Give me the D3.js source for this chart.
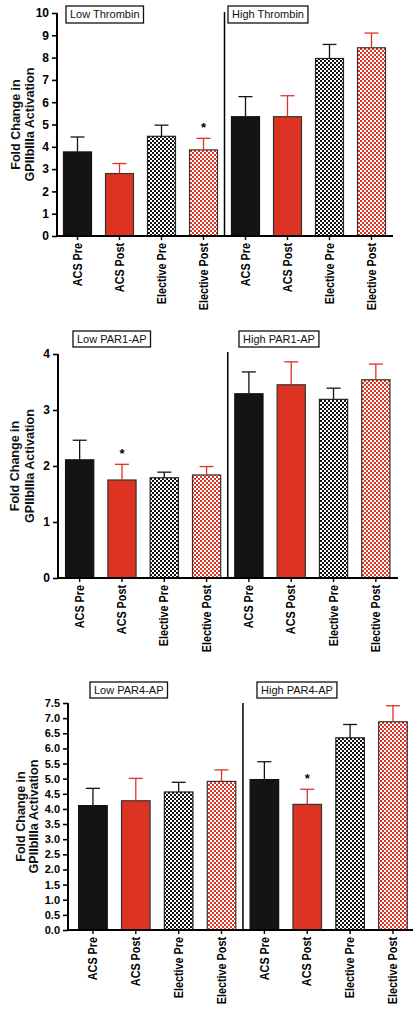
<!DOCTYPE html>
<html><head><meta charset="utf-8">
<script src="https://cdn.jsdelivr.net/npm/d3@7"></script>
<style>body{margin:0;background:#fff}svg{display:block}</style>
</head><body>
<script>
const categories = ["ACS Pre","ACS Post","Elective Pre","Elective Post","ACS Pre","ACS Post","Elective Pre","Elective Post"];
const thrombinMean = [3.77,2.80,4.47,3.86,5.35,5.35,7.96,8.44];
const thrombinErr  = [0.67,0.45,0.50,0.52,0.90,0.94,0.63,0.66];
const par1Mean = [2.11,1.75,1.79,1.84,3.29,3.45,3.19,3.54];
const par1Err  = [0.35,0.28,0.10,0.15,0.39,0.41,0.20,0.28];
const par4Mean = [4.11,4.27,4.56,4.91,4.97,4.15,6.35,6.88];
const par4Err  = [0.57,0.74,0.32,0.38,0.59,0.50,0.44,0.53];
const thrombinTicks = [0,1,2,3,4,5,6,7,8,9,10];
const par1Ticks = [0,1,2,3,4];
const par4Ticks = [0,0.5,1,1.5,2,2.5,3,3.5,4,4.5,5,5.5,6,6.5,7,7.5];
const thrombinTitles = ["Low Thrombin","High Thrombin"];
const par1Titles = ["Low PAR1-AP","High PAR1-AP"];
const par4Titles = ["Low PAR4-AP","High PAR4-AP"];
const thrombinSig = [3];
const par1Sig = [1];
const par4Sig = [5];
const yTitle = ["Fold Change in","GPIIbIIIa Activation"];

const RED = "#dd3322", BLK = "#141414";
const FONT = "Liberation Sans, Arial, sans-serif";
const svg = d3.select("body").append("svg").attr("width",420).attr("height",1010);
const defs = svg.append("defs");
function checker(id, col){
  const p = defs.append("pattern").attr("id",id).attr("patternUnits","userSpaceOnUse")
    .attr("width",4).attr("height",4);
  p.append("rect").attr("width",4).attr("height",4).attr("fill","#fff");
  p.append("rect").attr("width",2).attr("height",2).attr("fill",col);
  p.append("rect").attr("x",2).attr("y",2).attr("width",2).attr("height",2).attr("fill",col);
}
checker("chkB", BLK); checker("chkR", RED);
const fills = [BLK, RED, "url(#chkB)", "url(#chkR)"];
const strokes = ["#111","#333","#222","#333"];
const errCol = [BLK, RED, BLK, RED];

function panel(cfg){
  const {means, errs, ticks, titles, sig, fmt} = cfg;
  const L = cfg.layout;
  const g = svg.append("g");
  const y = d3.scaleLinear().domain([0, d3.max(ticks)]).range([L.y0, L.yTop]);
  const x = d3.scaleBand().domain(d3.range(categories.length))
    .range([L.x0, L.x1]).paddingInner(0.31).paddingOuter(0.155);

  g.selectAll("rect.bar").data(means).join("rect").attr("class","bar")
    .attr("x",(d,i)=>x(i)+0.5).attr("width",x.bandwidth()-1)
    .attr("y",d=>y(d)).attr("height",d=>L.y0-y(d))
    .attr("fill",(d,i)=>fills[i%4]).attr("stroke",(d,i)=>strokes[i%4]).attr("stroke-width",1.2);
  const eb = g.selectAll("g.err").data(means).join("g");
  eb.append("line").attr("x1",(d,i)=>x(i)+x.bandwidth()/2).attr("x2",(d,i)=>x(i)+x.bandwidth()/2)
    .attr("y1",d=>y(d)).attr("y2",(d,i)=>y(d+errs[i]))
    .attr("stroke",(d,i)=>errCol[i%4]).attr("stroke-width",1.3);
  eb.append("line").attr("x1",(d,i)=>x(i)+x.bandwidth()/2-7).attr("x2",(d,i)=>x(i)+x.bandwidth()/2+7)
    .attr("y1",(d,i)=>y(d+errs[i])).attr("y2",(d,i)=>y(d+errs[i]))
    .attr("stroke",(d,i)=>errCol[i%4]).attr("stroke-width",1.3);
  g.selectAll("text.sig").data(sig).join("text")
    .attr("x",i=>x(i)+x.bandwidth()/2).attr("y",i=>y(means[i]+errs[i])-6)
    .attr("text-anchor","middle").attr("font-family",FONT)
    .attr("font-size",13).attr("font-weight","bold").text("*");

  const ya = d3.axisLeft(y).tickValues(ticks).tickSize(5).tickPadding(3).tickFormat(fmt);
  const yg = g.append("g").attr("transform",`translate(${L.ax},0)`).call(ya);
  yg.select(".domain").attr("d",`M0,${L.yTop}V${L.y0}`).attr("stroke","#000").attr("stroke-width",2);
  yg.selectAll(".tick line").attr("stroke","#000").attr("stroke-width",1.6);
  yg.selectAll(".tick text").attr("font-family",FONT)
    .attr("font-size",L.tickFs).attr("font-weight","bold").attr("fill","#000");

  const xa = d3.axisBottom(x).tickSize(4).tickPadding(5).tickFormat(i=>categories[i]);
  const xg = g.append("g").attr("transform",`translate(0,${L.y0})`).call(xa);
  xg.select(".domain").attr("d",`M${L.ax},0H${L.xEnd}`).attr("stroke","#000").attr("stroke-width",2);
  xg.selectAll(".tick line").attr("stroke","#000").attr("stroke-width",1.4);
  xg.selectAll(".tick text").attr("font-family",FONT)
    .attr("font-size",12).attr("font-weight","bold").attr("fill","#000")
    .attr("transform","rotate(-90) scale(0.9,1)").attr("text-anchor","end").attr("dy","0.35em")
    .attr("x",-7/0.9).attr("y",0);

  const dx = (x(3)+x.bandwidth()+x(4))/2;
  g.append("line").attr("x1",dx).attr("x2",dx).attr("y1",L.divTop).attr("y2",L.y0)
    .attr("stroke","#000").attr("stroke-width",1.5);

  titles.forEach((t,k)=>{
    const bx = L.boxX[k];
    const tt = g.append("text").attr("x",bx+4).attr("y",L.boxY+L.boxH/2).attr("dy","0.35em")
      .attr("font-family",FONT).attr("font-size",11).attr("fill","#111").text(t);
    const w = tt.node().getComputedTextLength();
    g.insert("rect","text").attr("x",bx).attr("y",L.boxY).attr("width",w+8).attr("height",L.boxH)
      .attr("fill","#fff").attr("stroke","#111").attr("stroke-width",1.3);
  });

  const cy = (L.yTop+L.y0)/2;
  yTitle.forEach((t,k)=>{
    g.append("text").attr("transform",`translate(${L.tX[k]},${cy}) rotate(-90) scale(0.93,1)`)
      .attr("text-anchor","middle").attr("dy","0.35em")
      .attr("font-family",FONT).attr("font-size",13.5).attr("font-weight","bold")
      .attr("fill","#111").text(t);
  });
}

panel({means:thrombinMean, errs:thrombinErr, ticks:thrombinTicks, titles:thrombinTitles, sig:thrombinSig, fmt:d3.format("d"),
  layout:{y0:236,yTop:13,ax:57,x0:56.5,x1:392.5,xEnd:393,divTop:12,boxX:[66,228],boxY:6,boxH:17,tX:[15,29],tickFs:12}});
panel({means:par1Mean, errs:par1Err, ticks:par1Ticks, titles:par1Titles, sig:par1Sig, fmt:d3.format("d"),
  layout:{y0:578,yTop:354,ax:58,x0:58.5,x1:397,xEnd:398,divTop:352,boxX:[73,239],boxY:331,boxH:16,tX:[14,29],tickFs:12}});
panel({means:par4Mean, errs:par4Err, ticks:par4Ticks, titles:par4Titles, sig:par4Sig, fmt:d3.format(".1f"),
  layout:{y0:930,yTop:703,ax:68,x0:71.5,x1:414.4,xEnd:413,divTop:703,boxX:[90,257],boxY:682,boxH:16,tX:[20,33],tickFs:11}});
</script>
</body></html>
